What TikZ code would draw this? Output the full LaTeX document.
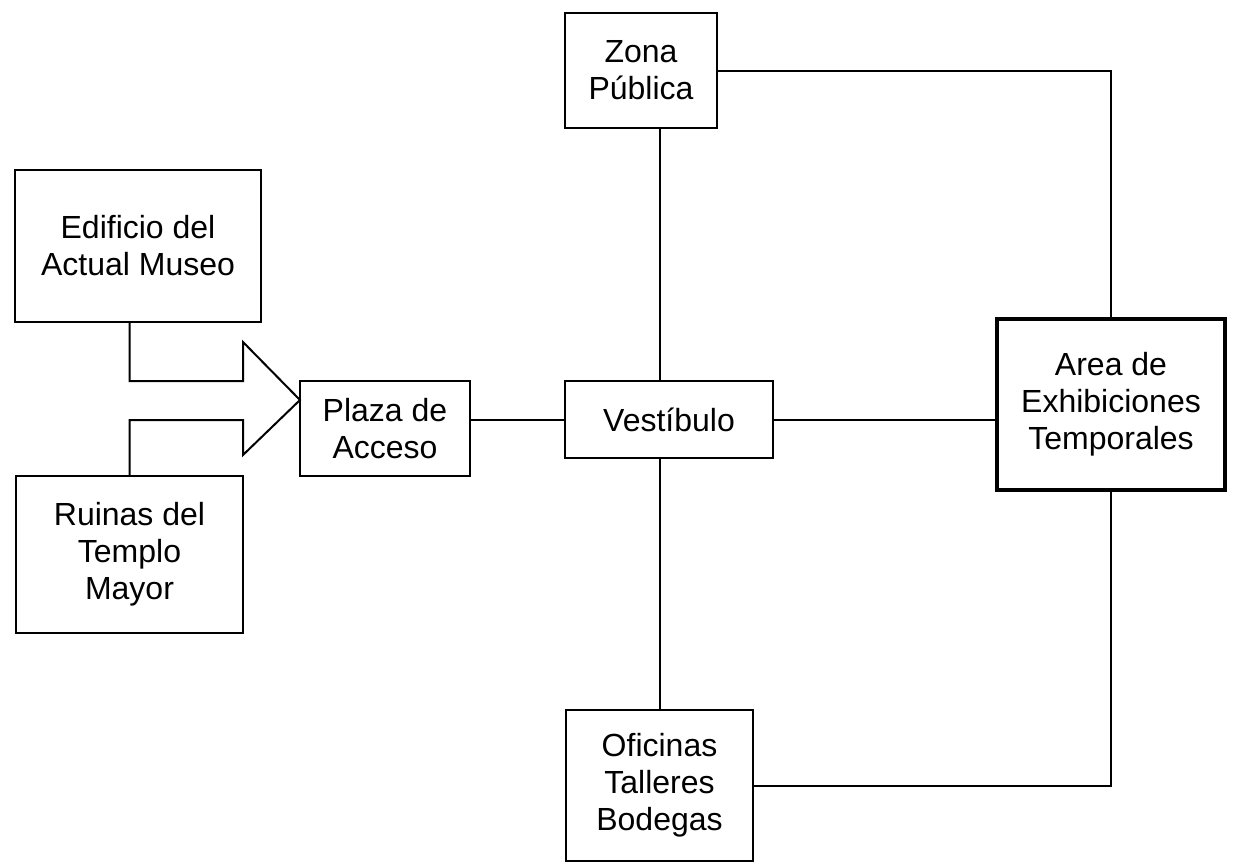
\documentclass[tikz,border=0pt]{standalone}
\usepackage{fontspec}
\setmainfont{Liberation Sans}
\tikzset{
    caja/.style={draw, line width=1pt, align=center, inner sep=0pt, outer sep=0pt,
        font=\fontsize{16}{18.5}\selectfont},
    liga/.style={line width=1pt}
}
\begin{document}
\begin{tikzpicture}[x=0.5pt, y=-0.5pt]
            \useasboundingbox (0,0) rectangle (1233,863);

            \node[caja, minimum width=76pt, minimum height=57.5pt] (zona) at (641,70.5) {Zona\\Pública};
            \node[caja, minimum width=123pt, minimum height=76pt] (edificio) at (138,246) {Edificio del\\Actual Museo};
            \node[caja, minimum width=113.5pt, minimum height=78.5pt] (ruinas) at (129.5,554.5) {Ruinas del\\Templo\\Mayor};
            \node[caja, minimum width=85pt, minimum height=47.5pt] (plaza) at (385,428.5) {Plaza de\\Acceso};
            \node[caja, minimum width=104pt, minimum height=38.5pt] (vest) at (669,419.5) {Vestíbulo};
            \node[caja, line width=2pt, minimum width=114pt, minimum height=85.5pt] (area) at (1111,404.5) {Area de\\Exhibiciones\\Temporales};
            \node[caja, minimum width=93.5pt, minimum height=75.5pt] (ofic) at (659.5,785.5) {Oficinas\\Talleres\\Bodegas};

            % flecha de los dos edificios hacia la plaza
            \draw[liga, line join=miter] (edificio.south -| ruinas.north) -- ++(0,59) -- ++(113.5,0) -- ++(0,-39)
                -- (plaza.west |- 0,400) -- ++(-57,55) -- ++(0,-35) -- (ruinas.north |- 0,420) -- (ruinas.north);

            \draw[liga] (plaza.east |- vest.west) -- (vest.west);
            \draw[liga] (ofic.north |- zona.south) -- (ofic.north |- vest.north);
            \draw[liga] (ofic.north |- vest.south) -- (ofic.north);
            \draw[liga] (vest.east) -- (vest.east -| area.west);
            \draw[liga] (zona.east) -| (area.north);
            \draw[liga] (ofic.east) -| (area.south);
        \end{tikzpicture}
\end{document}
